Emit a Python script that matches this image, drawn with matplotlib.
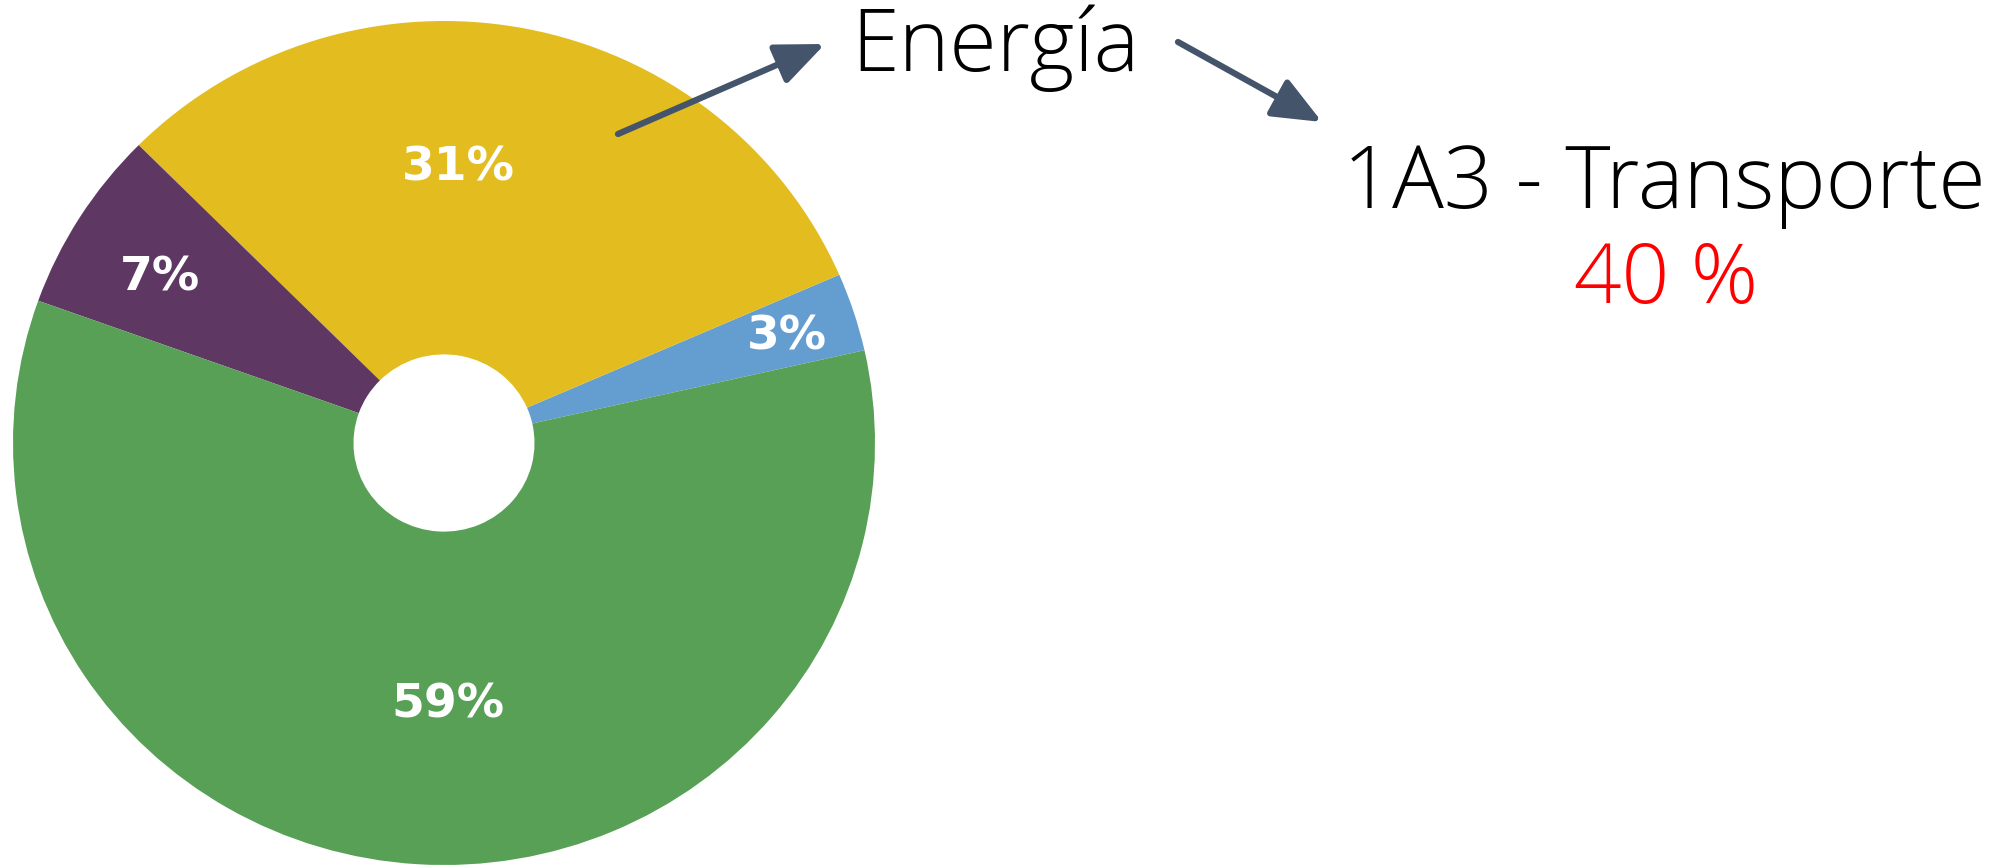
import matplotlib
matplotlib.use('Agg')
import matplotlib.pyplot as plt

# datos del grafico
labels = ['3%', '31%', '7%', '59%']
shares = [3, 31, 7, 59]
colors = ['#649ED0', '#E3BD20', '#5E3762', '#58A056']
# donde va cada etiqueta dentro del pie (coordenadas relativas al radio)
label_xy = [(0.796, 0.250), (0.034, 0.651), (-0.660, 0.392), (0.010, -0.620)]

title_main = 'Energía'
sub_title = '1A3 - Transporte'
sub_value = '40 %'

W, H = 1997, 868
fig = plt.figure(figsize=(W / 100, H / 100), dpi=100)

# pie (ligeramente eliptico como en la imagen)
cx, cy, rx, ry = 444, 443, 431, 422
ax = fig.add_axes([(cx - rx) / W, (H - cy - ry) / H, 2 * rx / W, 2 * ry / H])
wedges, _ = ax.pie(shares, colors=colors, startangle=12.7, counterclock=True,
                   wedgeprops=dict(width=0.79, linewidth=0))
ax.set_aspect('auto')
ax.set_xlim(-1, 1)
ax.set_ylim(-1, 1)
ax.axis('off')

for lab, (x, y) in zip(labels, label_xy):
    ax.text(x, y, lab, color='white', fontsize=34, fontweight='bold',
            family='DejaVu Sans', ha='center', va='center')

# capa de anotaciones en pixeles
ov = fig.add_axes([0, 0, 1, 1])
ov.set_xlim(0, W)
ov.set_ylim(H, 0)
ov.axis('off')
ov.patch.set_alpha(0)

arrow_col = '#44546A'
astyle = '-|>,head_length=1.3,head_width=0.55'
ov.annotate('', xy=(825, 44), xytext=(618, 134),
            arrowprops=dict(arrowstyle=astyle, mutation_scale=23,
                            color=arrow_col, lw=4.5, shrinkA=0, shrinkB=0))
ov.annotate('', xy=(1322, 122), xytext=(1178, 42),
            arrowprops=dict(arrowstyle=astyle, mutation_scale=23,
                            color=arrow_col, lw=4.5, shrinkA=0, shrinkB=0))

ov.text(995, 71, title_main, fontsize=62, family='Open Sans', fontweight='light',
        ha='center', va='baseline', color='black')
ov.text(1664, 208, sub_title, fontsize=62, family='Open Sans', fontweight='light',
        ha='center', va='baseline', color='black')
ov.text(1666, 303, sub_value, fontsize=60, family='Open Sans', fontweight='light',
        ha='center', va='baseline', color='#FF0000')

fig.savefig('out.png', dpi=100, facecolor='white')
